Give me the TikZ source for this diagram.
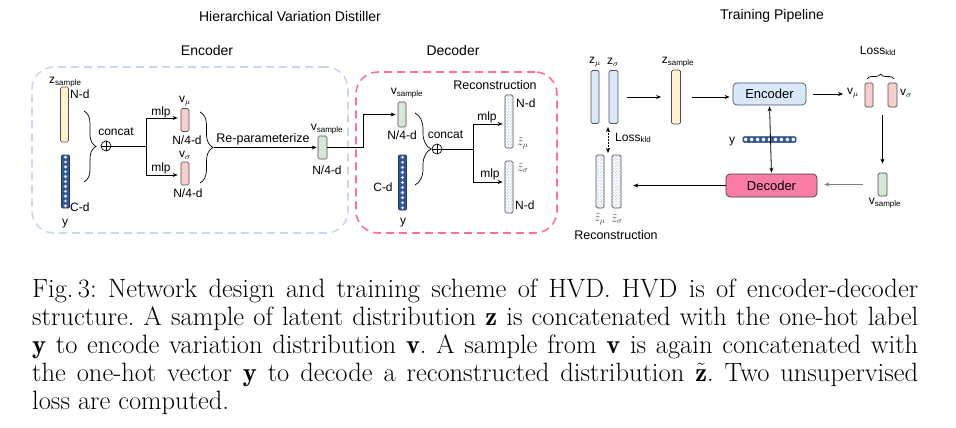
\documentclass[tikz,border=0pt]{standalone}
\usepackage{fontspec}
\newfontfamily\arf{Liberation Sans}
\usetikzlibrary{arrows.meta,decorations.pathreplacing,patterns,calc}
\definecolor{yel}{HTML}{FFF2CC}
\definecolor{lblue}{HTML}{DAE8FC}
\definecolor{pinkbar}{HTML}{F8CECC}
\definecolor{greenbar}{HTML}{D5E8D4}
\definecolor{barline}{HTML}{505050}
\definecolor{ydark}{HTML}{2F5597}
\definecolor{ydarkline}{HTML}{1F3864}
\definecolor{encdash}{HTML}{C9D7EF}
\definecolor{decdash}{HTML}{FF6F9F}
\definecolor{decfill}{HTML}{F87CA4}
\definecolor{checkc}{HTML}{CCDAF0}
\pgfdeclarepatternformonly{finechk}{\pgfpointorigin}{\pgfqpoint{3pt}{3pt}}{\pgfqpoint{3pt}{3pt}}{%
  \pgfpathrectangle{\pgfpointorigin}{\pgfqpoint{1.5pt}{1.5pt}}%
  \pgfpathrectangle{\pgfqpoint{1.5pt}{1.5pt}}{\pgfqpoint{1.5pt}{1.5pt}}%
  \pgfusepath{fill}}
\frenchspacing
\begin{document}
\begin{tikzpicture}[x=1pt,y=-1pt,
  lbl/.style={font=\arf\fontsize{12}{13}\selectfont, inner sep=0},
  ttl/.style={font=\arf\fontsize{14}{16}\selectfont, inner sep=0},
  bar/.style={draw=barline, line width=0.7pt, rounded corners=1.5pt, inner sep=0, minimum width=8pt},
  ybar/.style={draw=ydarkline, fill=ydark, line width=0.6pt, rounded corners=1pt, inner sep=0},
  chk/.style={bar, preaction={fill=white}, pattern=finechk, pattern color=checkc},
  boxn/.style={draw=barline, line width=0.7pt, rounded corners=4pt, inner sep=0, font=\arf\fontsize{13}{14}\selectfont},
  dframe/.style={line width=1.6pt, dash pattern=on 8pt off 5pt, rounded corners=22pt, inner sep=0},
  oplus/.style={circle, draw, line width=0.7pt, minimum size=10pt, inner sep=0},
  conn/.style={line width=0.8pt},
  arr/.style={conn, -{Stealth[length=5pt,width=4pt]}},
  darr/.style={conn, {Stealth[length=5pt,width=4pt]}-{Stealth[length=5pt,width=4pt]}},
  brc/.style={line width=0.7pt, decorate},
  captxt/.style={anchor=base west, inner sep=0, font=\fontsize{26.5}{28}\selectfont}
]
\useasboundingbox (0,0) rectangle (956,428);

% ---------- titles ----------
\node[ttl] (t1) at (290,16) {Hierarchical Variation Distiller};
\node[ttl] (t2) at (772,16) {Training Pipeline};
\node[ttl] (t3) at (207,50) {Encoder};
\node[ttl] (t4) at (453,50) {Decoder};

% ---------- frames ----------
\node[dframe, draw=encdash, minimum width=316pt, minimum height=166pt] (encbox) at (190,150) {};
\node[dframe, draw=decdash, minimum width=201pt, minimum height=161pt] (decbox) at (456.5,152.5) {};

% ---------- encoder ----------
\node[bar, fill=yel, minimum height=55pt] (zs) at (64.5,114.5) {};
\node[lbl, anchor=base west] (zslab) at (49,84) {z\textsubscript{sample}};
\node[lbl, anchor=west] (zsn) at (70,94.5) {N-d};
\node[ybar, minimum width=8pt, minimum height=53pt] (ye) at (65.5,181.5) {};
\foreach \k in {0,...,10} \filldraw[fill=white, draw=ydark, line width=0.3pt] ($(ye.north)!{(\k+0.5)/11}!(ye.south)$) circle (1.9);
\node[lbl, anchor=west] (yen) at (70,207) {C-d};
\node[lbl, anchor=base] (yel) at (65,225) {y};
\draw[brc, decoration={brace, amplitude=12pt}] (84,111) -- (84,182);
\node[oplus] (op1) at (106,146) {};
\draw[line width=0.7pt] (op1.north) -- (op1.south) (op1.west) -- (op1.east);
\node[lbl] (cc1) at (116,132) {concat};
\node[bar, fill=pinkbar, minimum height=23pt] (vmu) at (185,120) {};
\node[bar, fill=pinkbar, minimum height=23pt] (vsig) at (185,173.5) {};
\coordinate (j1) at (146,146);
\coordinate (j1t) at (146,118);
\coordinate (j1b) at (146,175);
\draw[conn] (op1.east) -- (j1);
\draw[conn] (j1t) -- (j1b);
\draw[arr, shorten >=3pt] (j1t) -- (j1t -| vmu.west);
\draw[arr, shorten >=3pt] (j1b) -- (j1b -| vsig.west);
\node[lbl] (m1) at (161,112) {mlp};
\node[lbl] (m2) at (161,168) {mlp};
\node[lbl] (vmul) at (185,101) {v$_\mu$};
\node[lbl] (vmun) at (187,140) {N/4-d};
\node[lbl] (vsigl) at (185,155) {v$_\sigma$};
\node[lbl] (vsign) at (188,193) {N/4-d};
\draw[brc, decoration={brace, amplitude=13pt}] (200,112) -- (200,183);
\coordinate (b2tip) at (214,147.5);
\node[bar, fill=greenbar, minimum width=9pt, minimum height=23pt] (vsamp) at (322.5,147.5) {};
\draw[arr, shorten >=1pt] (b2tip) -- (vsamp.west);
\node[lbl, font=\arf\fontsize{12.5}{13}\selectfont] (rp) at (263,139) {Re-parameterize};
\node[lbl] (vsl) at (327,129) {v\textsubscript{sample}};
\node[lbl] (vsn) at (327,170) {N/4-d};

% ---------- decoder ----------
\node[bar, fill=greenbar, minimum height=25pt] (vsamp2) at (402,114.5) {};
\coordinate (k1) at (363,147.5);
\draw[conn] (vsamp.east) -- (k1);
\draw[arr, shorten >=2pt] (k1) |- (vsamp2.west);
\node[lbl] (vs2l) at (407,93) {v\textsubscript{sample}};
\node[lbl] (vs2n) at (402,135) {N/4-d};
\node[ybar, minimum width=8pt, minimum height=55pt] (yd) at (402.5,182.5) {};
\foreach \k in {0,...,10} \filldraw[fill=white, draw=ydark, line width=0.3pt] ($(yd.north)!{(\k+0.5)/11}!(yd.south)$) circle (1.9);
\node[lbl] (ydn) at (383,187) {C-d};
\node[lbl, anchor=base] (ydl) at (403,224) {y};
\draw[brc, decoration={brace, amplitude=16pt}] (415,113) -- (415,185);
\node[oplus] (op2) at (437,149) {};
\draw[line width=0.7pt] (op2.north) -- (op2.south) (op2.west) -- (op2.east);
\node[lbl] (cc2) at (445.5,135) {concat};
\node[chk, minimum height=53pt] (zmr) at (509,121.5) {};
\node[chk, minimum height=52pt] (zsr) at (509,187) {};
\coordinate (j2) at (473,149);
\coordinate (j2t) at (473,124);
\coordinate (j2b) at (473,182);
\draw[conn] (op2.east) -- (j2);
\draw[conn] (j2t) -- (j2b);
\draw[arr, shorten >=2pt] (j2t) -- (j2t -| zmr.west);
\draw[arr, shorten >=2pt] (j2b) -- (j2b -| zsr.west);
\node[lbl] (m3) at (487,117) {mlp};
\node[lbl] (m4) at (490,174) {mlp};
\node[lbl, anchor=west] (zmrn) at (516,103) {N-d};
\node[lbl, text=black!75] (zmrl) at (523,143) {$\tilde{z}_\mu$};
\node[lbl, text=black!75] (zsrl) at (523,168) {$\tilde{z}_\sigma$};
\node[lbl, anchor=west] (zsrn) at (515,205) {N-d};
\node[lbl, font=\arf\fontsize{12.5}{13}\selectfont] (rec1) at (495,85) {Reconstruction};

% ---------- training pipeline ----------
\node[bar, fill=lblue, minimum height=53pt] (zmu) at (595,97) {};
\node[bar, fill=lblue, minimum width=9pt, minimum height=53pt] (zsig) at (613.5,97) {};
\node[lbl] (zmul) at (595,62) {z$_\mu$};
\node[lbl] (zsigl) at (613,62) {z$_\sigma$};
\node[bar, fill=yel, minimum width=9pt, minimum height=54pt] (zs2) at (676,97) {};
\node[lbl] (zs2l) at (678,62) {z\textsubscript{sample}};
\node[boxn, fill=lblue, minimum width=73pt, minimum height=22pt] (enc) at (769.5,94) {Encoder};
\draw[arr, shorten <=9pt, shorten >=10pt] (zsig) -- (zs2);
\draw[arr, shorten <=11pt, shorten >=3pt] (zs2.east) -- (zs2.east -| enc.west);
\node[lbl] (vmu2l) at (853,93) {v$_\mu$};
\node[bar, fill=pinkbar, minimum height=24pt] (vmu2) at (869,95) {};
\node[bar, fill=pinkbar, minimum width=9pt, minimum height=24pt] (vsig2) at (892.5,95) {};
\node[lbl] (vsig2l) at (906,93) {v$_\sigma$};
\draw[arr, shorten <=7pt, shorten >=4pt] (enc.east) -- (enc.east -| vmu2l.west);
\draw[brc, decoration={brace, amplitude=5pt}] (867,79) -- (894,79);
\node[lbl] (lossa) at (878,51) {Loss\textsubscript{kld}};
\node[bar, fill=greenbar, minimum width=9pt, minimum height=23pt] (vsamp3) at (882.5,184.5) {};
\node[lbl] (vs3l) at (885,203) {v\textsubscript{sample}};
\coordinate (vd) at (882.5,115);
\draw[arr, shorten >=9pt] (vd) -- (vsamp3.north);
\node[boxn, fill=decfill, draw=black!75, minimum width=91pt, minimum height=23pt] (dec) at (771.5,185.5) {Decoder};
\draw[arr, draw=black!50, fill=black!50, shorten <=15pt, shorten >=7pt] (vsamp3.west) -- (vsamp3.west -| dec.east);
\node[ybar, minimum width=53pt, minimum height=5.5pt] (yp) at (769.5,139.5) {};
\foreach \k in {0,...,8} \filldraw[fill=white, draw=ydark, line width=0.3pt] ($(yp.west)!{(\k+0.5)/9}!(yp.east)$) circle (2);
\node[lbl, anchor=base] (ypl) at (732,143) {y};
\draw[darr, shorten <=1pt, shorten >=1pt] (enc.south) -- (dec.north);
\node[chk, minimum height=53pt] (zmr2) at (600,181.5) {};
\node[chk, minimum width=9pt, minimum height=53pt] (zsr2) at (616.5,181.5) {};
\draw[arr, shorten >=12pt] (dec.west) -- (dec.west -| zsr2.east);
\node[lbl, text=black!75] (zmr2l) at (600,219) {$\tilde{z}_\mu$};
\node[lbl, text=black!75] (zsr2l) at (617,219) {$\tilde{z}_\sigma$};
\node[lbl, font=\arf\fontsize{12.5}{13}\selectfont] (rec2) at (616,235) {Reconstruction};
\coordinate (lkt) at (608,127);
\coordinate (lkb) at (608,153);
\draw[darr, dash pattern=on 1.5pt off 1.5pt] (lkt) -- (lkb);
\node[lbl, anchor=west] (lossb) at (615,138) {Loss\textsubscript{kld}};

% ---------- caption ----------
\node[captxt] (c1) at (32,297) {\hbox to 886pt{Fig.\,3: Network design and training scheme of HVD. HVD is of encoder-decoder}};
\node[captxt] (c2) at (32,325) {\hbox to 886pt{structure. A sample of latent distribution $\mathbf{z}$ is concatenated with the one-hot label}};
\node[captxt] (c3) at (32,353) {\hbox to 886pt{$\mathbf{y}$ to encode variation distribution $\mathbf{v}$. A sample from $\mathbf{v}$ is again concatenated with}};
\node[captxt] (c4) at (32,381) {\hbox to 886pt{the one-hot vector $\mathbf{y}$ to decode a reconstructed distribution $\tilde{\mathbf{z}}$. Two unsupervised}};
\node[captxt] (c5) at (32,409) {loss are computed.};
\end{tikzpicture}
\end{document}
